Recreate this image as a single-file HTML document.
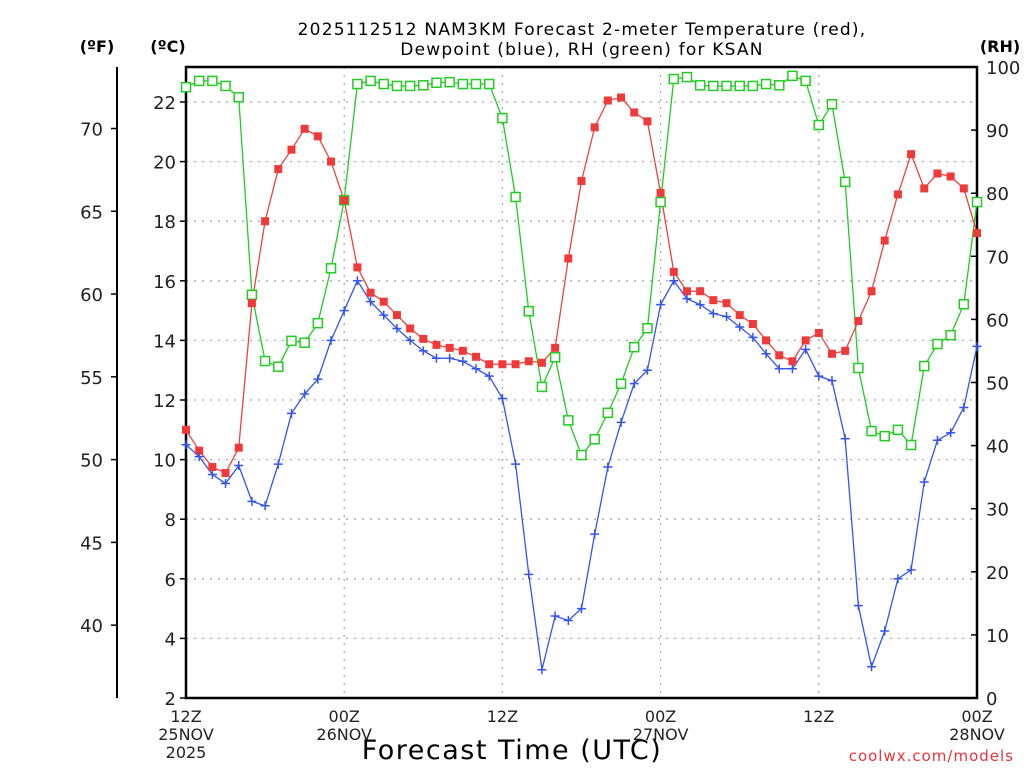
<!DOCTYPE html>
<html><head><meta charset="utf-8"><style>
html,body{margin:0;padding:0;background:#fff;}
svg{display:block;font-family:"DejaVu Sans","Liberation Sans",sans-serif;}
</style></head><body>
<svg id="chart" width="1024" height="768" viewBox="0 0 1024 768">
<g id="grid"></g>
<g id="axes"></g>
<g id="series"></g>
<text x="582" y="35" text-anchor="middle" font-size="17" letter-spacing="1.2">2025112512 NAM3KM Forecast 2-meter Temperature (red),</text>
<text x="582" y="55" text-anchor="middle" font-size="17" letter-spacing="1.2">Dewpoint (blue), RH (green) for KSAN</text>
<text x="97" y="52" text-anchor="middle" font-size="16" font-weight="bold">(ºF)</text>
<text x="168" y="52" text-anchor="middle" font-size="16" font-weight="bold">(ºC)</text>
<text x="1000" y="52" text-anchor="middle" font-size="16" font-weight="bold">(RH)</text>
<text x="512" y="759" text-anchor="middle" font-size="27" letter-spacing="1.5">Forecast Time (UTC)</text>
<text x="1014" y="761" text-anchor="end" font-size="15" fill="#e8343a" letter-spacing="1">coolwx.com/models</text>
</svg>
<script>
const hours = [];
for (let i = 0; i <= 60; i++) hours.push(i);
const tempC = [11.0,10.3,9.75,9.55,10.4,15.25,18.0,19.75,20.4,21.1,20.85,20.0,18.7,16.45,15.6,15.3,14.85,14.4,14.05,13.85,13.75,13.65,13.45,13.2,13.2,13.2,13.3,13.25,13.75,16.75,19.35,21.15,22.05,22.15,21.65,21.35,18.95,16.3,15.65,15.65,15.35,15.25,14.85,14.55,14.0,13.5,13.3,14.0,14.25,13.55,13.65,14.65,15.65,17.35,18.9,20.25,19.1,19.6,19.5,19.1,17.6];
const dewC = [10.5,10.1,9.5,9.2,9.8,8.6,8.45,9.85,11.55,12.2,12.7,14.0,15.0,16.0,15.3,14.85,14.4,14.0,13.65,13.4,13.4,13.3,13.05,12.8,12.05,9.85,6.15,2.95,4.75,4.6,5.0,7.5,9.75,11.25,12.55,13.0,15.2,16.0,15.4,15.2,14.9,14.8,14.45,14.1,13.55,13.05,13.05,13.7,12.8,12.65,10.7,5.1,3.05,4.25,6.0,6.3,9.25,10.65,10.9,11.75,13.8];
const rh = [96.8,97.8,97.8,97.0,95.2,63.9,53.4,52.5,56.6,56.3,59.4,68.1,78.9,97.3,97.8,97.3,97.0,97.0,97.1,97.5,97.6,97.3,97.3,97.3,91.9,79.4,61.3,49.3,54.0,44.0,38.5,41.0,45.2,49.8,55.6,58.6,78.6,98.1,98.4,97.1,97.0,97.0,97.0,97.0,97.3,97.1,98.6,97.8,90.8,94.1,81.8,52.3,42.3,41.5,42.5,40.1,52.6,56.1,57.5,62.4,78.6];
const cTicks = [2,4,6,8,10,12,14,16,18,20,22];
const fTicks = [40,45,50,55,60,65,70];
const rhTicks = [0,10,20,30,40,50,60,70,80,90,100];
const xTickHours = [0,12,24,36,48,60];
const xTickLabels = [["12Z","25NOV","2025"],["00Z","26NOV"],["12Z"],["00Z","27NOV"],["12Z"],["00Z","28NOV"]];

const L=186,R=977,T=67,B=698;
const xS = h => L + (R-L)*h/60;
const cS = c => B - (c-2)*29.8;
const fS = f => cS((f-32)*5/9);
const rS = r => B - (B-T)*r/100;
const NS="http://www.w3.org/2000/svg";
function mk(tag, attrs, parent){const e=document.createElementNS(NS,tag);for(const k in attrs)e.setAttribute(k,attrs[k]);parent.appendChild(e);return e;}
const grid=document.getElementById('grid'), axes=document.getElementById('axes'), ser=document.getElementById('series');

cTicks.forEach(c=>{
  const y=cS(c);
  const g=mk('line',{x1:L,x2:R,y1:y,y2:y,stroke:'#aaa','stroke-width':1.3,'stroke-dasharray':'2 6'},grid);
  
  
  const t=mk('line',{x1:L-6,x2:L,y1:y,y2:y,stroke:'#000','stroke-width':1.5},axes);
  
  
  const lb=mk('text',{x:176,y:y+7,'text-anchor':'end','font-size':18,fill:'#222'},axes);
  lb.textContent=c;
  
  
});
xTickHours.forEach((h,i)=>{
  const x=xS(h);
  if(i>0&&i<xTickHours.length-1){
    const g=mk('line',{x1:x,x2:x,y1:T,y2:B,stroke:'#aaa','stroke-width':1.3,'stroke-dasharray':'2 6'},grid);
    
    
  }
  xTickLabels[i].forEach((s,j)=>{
    const lb=mk('text',{x:x,y:722+j*18,'text-anchor':'middle','font-size':16,fill:'#222'},axes);
    lb.textContent=s;
    
    
  });
});
const fl=mk('line',{x1:117,x2:117,y1:67,y2:698,stroke:'#000','stroke-width':2},axes);


fTicks.forEach(f=>{
  const y=fS(f);
  const t=mk('line',{x1:111,x2:117,y1:y,y2:y,stroke:'#000','stroke-width':1.5},axes);
  
  
  const lb=mk('text',{x:103,y:y+7,'text-anchor':'end','font-size':18,fill:'#222'},axes);
  lb.textContent=f;
  
  
});
rhTicks.forEach(r=>{
  const y=rS(r);
  const t=mk('line',{x1:R-6,x2:R,y1:y,y2:y,stroke:'#000','stroke-width':1.5},axes);
  
  
  const lb=mk('text',{x:986,y:y+7,'font-size':18,fill:'#222'},axes);
  lb.textContent=r;
  
  
});
const fr=mk('rect',{x:L,y:T,width:R-L,height:B-T,fill:'none',stroke:'#000','stroke-width':2.5},axes);



function line(vals, yS, color, name){
  const p=mk('polyline',{points:vals.map((v,i)=>xS(hours[i])+','+yS(v)).join(' '),fill:'none',stroke:color,'stroke-width':1.3},ser);
  
  
}
line(rh,rS,'#22cc22','rh-line');
line(tempC,cS,'#f04040','temperature-line');
line(dewC,cS,'#3355ee','dewpoint-line');
rh.forEach((v,i)=>{
  const m=mk('rect',{x:xS(hours[i])-4.5,y:rS(v)-4.5,width:9,height:9,fill:'#fff',stroke:'#22cc22','stroke-width':1.5},ser);
  
  
});
tempC.forEach((v,i)=>{
  const m=mk('rect',{x:xS(hours[i])-4,y:cS(v)-4,width:8,height:8,fill:'#f03a3a'},ser);
  
  
});
dewC.forEach((v,i)=>{
  const x=xS(hours[i]),y=cS(v);
  const m=mk('path',{d:`M${x-4.5},${y}H${x+4.5}M${x},${y-4.5}V${y+4.5}`,stroke:'#3355ee','stroke-width':1.5},ser);
  
  
});
</script>
</body></html>
